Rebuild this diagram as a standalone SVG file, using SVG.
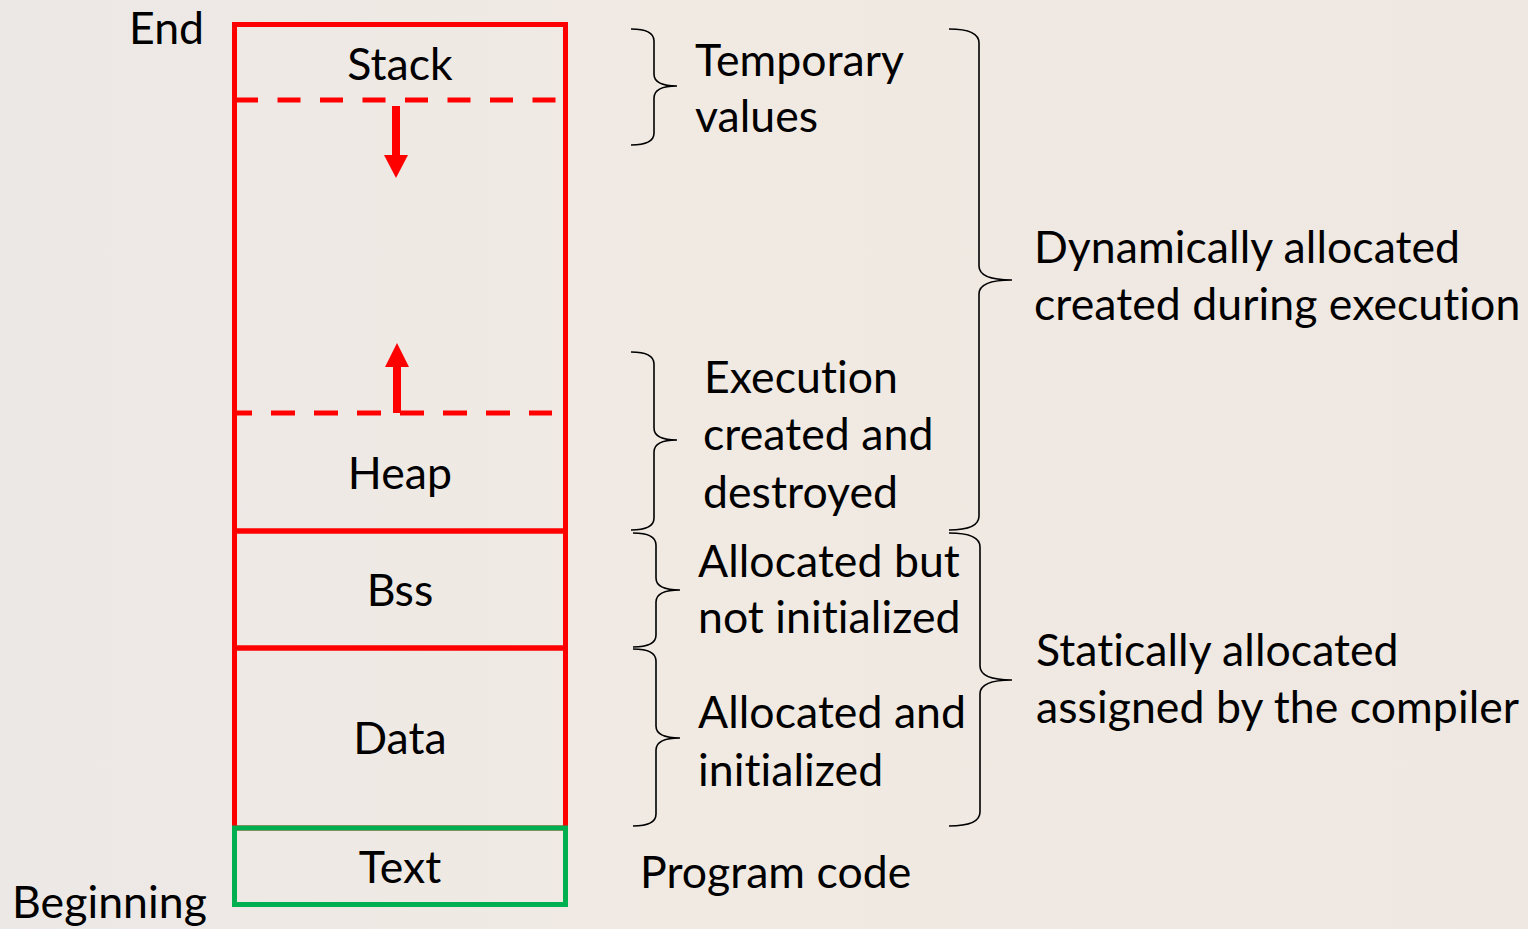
<svg xmlns="http://www.w3.org/2000/svg" width="1528" height="929" viewBox="0 0 1528 929">
<defs>
<linearGradient id="bg" x1="0" y1="0" x2="1" y2="0">
<stop offset="0" stop-color="#ECE8E6"/>
<stop offset="0.45" stop-color="#F1EAE3"/>
<stop offset="1" stop-color="#EFE8E2"/>
</linearGradient>
<style>
.t{font-family:Lato,"Open Sans",sans-serif;font-size:44.6px;fill:#000;letter-spacing:0.05px;font-variant-ligatures:none;font-feature-settings:"liga" 0,"clig" 0,"dlig" 0,"calt" 0}
.c{text-anchor:middle}
.box{fill:none;stroke:#FF0000;stroke-width:5}
.dash{stroke:#FF0000;stroke-width:5;stroke-dasharray:23 19.5}
.br{fill:none;stroke:#000;stroke-width:1.6}
.arr{fill:#FF0000}
</style>
</defs>
<rect width="1528" height="929" fill="url(#bg)"/>
<g id="labels-ends">
<text class="t" x="129" y="44">End</text>
<text class="t" x="12" y="918">Beginning</text>
</g>
<g id="connectors">
<line class="dash" x1="235" y1="100" x2="560" y2="100"/>
<line x1="237" y1="413" x2="552" y2="413" stroke="#FF0000" stroke-width="5" stroke-dasharray="24 19" stroke-dashoffset="9"/>
<rect x="392" y="106" width="8" height="50" class="arr"/>
<polygon class="arr" points="384,155 408,155 396,178"/>
<rect x="393" y="365" width="8" height="48" class="arr"/>
<polygon class="arr" points="385,367 409,367 397,343"/>
</g>
<g id="stack">
<rect class="box" x="234.5" y="24.5" width="331" height="506.5"/>
<text class="t c" x="400" y="80">Stack</text>
</g>
<g id="heap">
<text class="t c" x="400" y="489">Heap</text>
</g>
<g id="bss">
<rect class="box" x="234.5" y="531" width="331" height="117"/>
<text class="t c" x="400" y="606">Bss</text>
</g>
<g id="data">
<rect class="box" x="234.5" y="648" width="331" height="180"/>
<text class="t c" x="400" y="754">Data</text>
</g>
<g id="text">
<rect x="234.5" y="828" width="331" height="76.5" fill="none" stroke="#00B050" stroke-width="5"/>
<text class="t c" x="400" y="883">Text</text>
</g>
<g id="braces">
<path class="br" d="M631,29 Q654,29 654,41 L654,74 Q654,86 677,86 Q654,86 654,98 L654,133 Q654,145 631,145"/>
<path class="br" d="M631,352 Q654,352 654,364 L654,428 Q654,440 677,440 Q654,440 654,452 L654,518 Q654,530 631,530"/>
<path class="br" d="M633,533 Q656,533 656,545 L656,578 Q656,590 680,590 Q656,590 656,602 L656,635 Q656,647 633,647"/>
<path class="br" d="M633,649 Q656,649 656,661 L656,726 Q656,738 680,738 Q656,738 656,750 L656,814 Q656,826 633,826"/>
<path class="br" d="M949,29 Q979,29 979,43 L979,266 Q979,280 1012,280 Q979,280 979,294 L979,516 Q979,530 949,530"/>
<path class="br" d="M949,533 Q980,533 980,547 L980,666 Q980,680 1012,680 Q980,680 980,694 L980,812 Q980,826 949,826"/>
</g>
<g id="annotations">
<text class="t" x="695" y="76">Temporary</text>
<text class="t" x="695" y="132">values</text>
<text class="t" x="704" y="393">Execution</text>
<text class="t" x="703" y="450">created and</text>
<text class="t" x="703" y="508">destroyed</text>
<text class="t" x="698" y="577">Allocated but</text>
<text class="t" x="698" y="633">not initialized</text>
<text class="t" x="698" y="728">Allocated and</text>
<text class="t" x="698" y="786">initialized</text>
<text class="t" x="640" y="888">Program code</text>
<text class="t" x="1034" y="263">Dynamically allocated</text>
<text class="t" x="1034" y="320">created during execution</text>
<text class="t" x="1036" y="666">Statically allocated</text>
<text class="t" x="1036" y="723">assigned by the compiler</text>
</g>
</svg>
